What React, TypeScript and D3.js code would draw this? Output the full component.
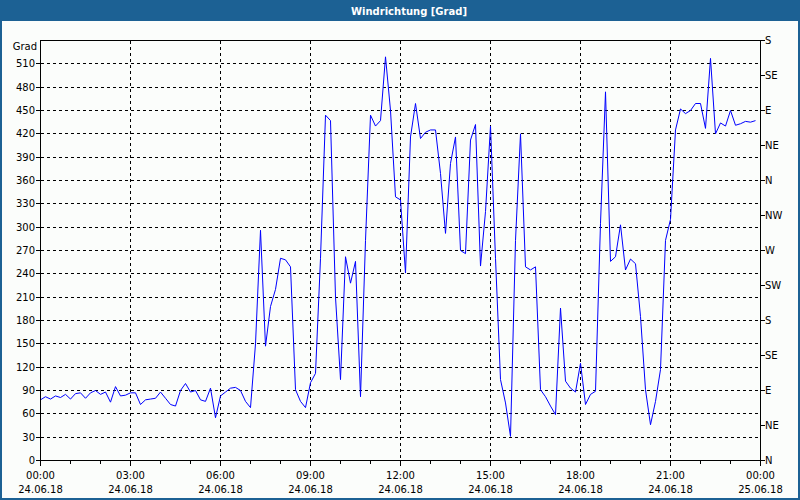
import React from "react";
import * as d3 from "d3";

// ---- data (10-minute readings, 24.06.18 00:00 onward) ----
const intervalMinutes = 10;
const windDirection: number[] = [
  78, 82, 79, 83, 81, 85, 79, 86, 87, 80,
  87, 90, 85, 88, 75, 95, 83, 84, 87, 87,
  72, 78, 79, 80, 88, 80, 72, 70, 90, 99,
  88, 90, 78, 76, 93, 55, 83, 88, 93, 94,
  90, 76, 68, 150, 296, 147, 198, 220, 260, 258,
  249, 91, 76, 68, 100, 112, 260, 444, 437, 210,
  104, 262, 228, 256, 82, 283, 444, 430, 437, 519,
  450, 339, 335, 241, 416, 459, 414, 422, 425, 425,
  369, 292, 382, 416, 270, 266, 412, 432, 250, 320,
  430, 260, 104, 74, 31, 283, 420, 249, 245, 249,
  91, 82, 70, 59, 196, 102, 93, 88, 125, 72,
  85, 89, 305, 474, 256, 262, 303, 245, 259, 253,
  185, 91, 46, 76, 117, 283, 310, 425, 452, 446,
  450, 459, 459, 427, 517, 420, 434, 430, 450, 431,
  433, 436, 435, 437,
];

const yTicks: number[] = [0, 30, 60, 90, 120, 150, 180, 210, 240, 270, 300, 330, 360, 390, 420, 450, 480, 510];
const compassValues: number[] = [0, 45, 90, 135, 180, 225, 270, 315, 360, 405, 450, 495, 540];
const compassLabels: string[] = ["N", "NE", "E", "SE", "S", "SW", "W", "NW", "N", "NE", "E", "SE", "S"];
const xMajorMinutes: number[] = [0, 180, 360, 540, 720, 900, 1080, 1260, 1440];
const xTimeLabels: string[] = ["00:00", "03:00", "06:00", "09:00", "12:00", "15:00", "18:00", "21:00", "00:00"];
const xDateLabels: string[] = ["24.06.18", "24.06.18", "24.06.18", "24.06.18", "24.06.18", "24.06.18", "24.06.18", "24.06.18", "25.06.18"];
const xMinorMinutes: number[] = d3.range(0, 1441, 60);

const title = "Windrichtung [Grad]";
const unitLabel = "Grad";

const W = 800;
const H = 500;
const left = 40.5;
const right = 760.5;
const top = 40.5;
const bottom = 460.5;
const FONT = "'DejaVu Sans', Verdana, sans-serif";

export default function App() {
  const x = d3.scaleLinear().domain([0, 1440]).range([left, right]);
  const y = d3.scaleLinear().domain([0, 540]).range([bottom, top]);

  const pts = windDirection.map((v, i) => ({ t: i * intervalMinutes, v }));
  const line = d3
    .line<{ t: number; v: number }>()
    .x((d) => x(d.t))
    .y((d) => y(d.v));

  return (
    <svg
      width={W}
      height={H}
      style={{ position: "absolute", left: 0, top: 0, display: "block" }}
      fontFamily={FONT}
    >
      <rect x={0} y={0} width={W} height={H} fill="#fbfdfb" />
      {/* title bar */}
      <rect x={0} y={0} width={W} height={21} fill="#1c6194" />
      <text x={409} y={15} textAnchor="middle" fill="#ffffff" fontSize={10} fontWeight="bold">
        {title}
      </text>
      {/* outer frame */}
      <rect x={1} y={1} width={W - 2} height={H - 2} fill="none" stroke="#1c6194" strokeWidth={2} />

      {/* grid */}
      <g stroke="#000" strokeWidth={1} strokeDasharray="3,3" shapeRendering="crispEdges">
        {yTicks
          .filter((v) => v > 0)
          .map((v) => (
            <line key={"gy" + v} x1={left} x2={right} y1={y(v)} y2={y(v)} />
          ))}
        {xMajorMinutes
          .filter((m) => m > 0 && m < 1440)
          .map((m) => (
            <line key={"gx" + m} x1={x(m)} x2={x(m)} y1={top} y2={bottom} />
          ))}
      </g>

      {/* data line */}
      <path d={line(pts) || ""} fill="none" stroke="#0000ff" strokeWidth={1} />

      {/* frame */}
      <rect
        x={left}
        y={top}
        width={right - left}
        height={bottom - top}
        fill="none"
        stroke="#000"
        strokeWidth={1}
        shapeRendering="crispEdges"
      />

      {/* left axis */}
      <g fontSize={10} fill="#000">
        {yTicks.map((v) => (
          <g key={"ly" + v}>
            <line x1={left - 5} x2={left} y1={y(v)} y2={y(v)} stroke="#000" shapeRendering="crispEdges" />
            <text x={35} y={y(v)} dy="0.36em" textAnchor="end">
              {v}
            </text>
          </g>
        ))}
        <text x={37} y={49.5} textAnchor="end">
          {unitLabel}
        </text>
      </g>

      {/* right axis */}
      <g fontSize={10} fill="#000">
        {compassValues.map((v, i) => (
          <g key={"ry" + v}>
            <line x1={right} x2={right + 4} y1={y(v)} y2={y(v)} stroke="#000" shapeRendering="crispEdges" />
            <text x={right + 4.5} y={y(v)} dy="0.36em" textAnchor="start">
              {compassLabels[i]}
            </text>
          </g>
        ))}
      </g>

      {/* bottom axis */}
      <g fontSize={10} fill="#000">
        {xMinorMinutes.map((m) => (
          <line
            key={"mt" + m}
            x1={x(m)}
            x2={x(m)}
            y1={bottom}
            y2={bottom + (m % 180 === 0 ? 5 : 3)}
            stroke="#000"
            shapeRendering="crispEdges"
          />
        ))}
        {xMajorMinutes.map((m, i) => (
          <g key={"xl" + m}>
            <text x={x(m)} y={479} textAnchor="middle">
              {xTimeLabels[i]}
            </text>
            <text x={x(m)} y={493} textAnchor="middle">
              {xDateLabels[i]}
            </text>
          </g>
        ))}
      </g>
    </svg>
  );
}
